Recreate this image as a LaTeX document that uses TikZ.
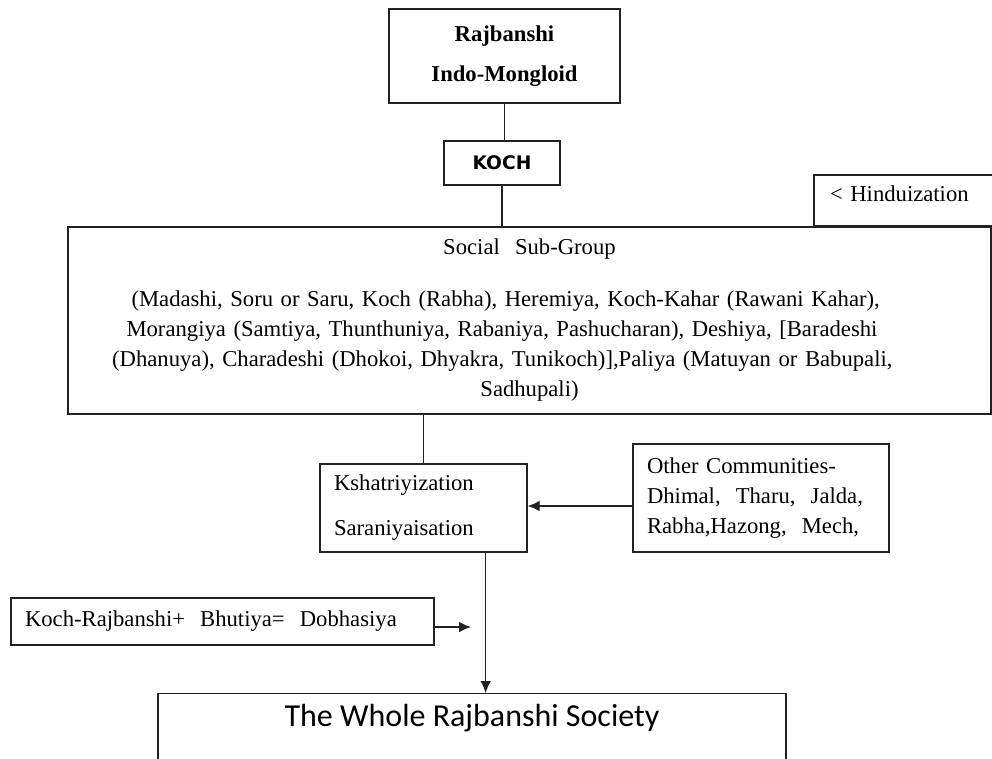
\documentclass[tikz,border=0pt]{standalone}
\usepackage{fontspec}
\setmainfont{Liberation Serif}
\newfontfamily\kochfont{DejaVu Sans}
\newfontfamily\wholefont{Carlito}
\usetikzlibrary{arrows.meta}
\definecolor{my_line}{HTML}{222222}

\begin{document}
\begin{tikzpicture}[
    x=0.75pt, y=-0.75pt,
    box/.style={draw=my_line, line width=1pt, rectangle, inner sep=0pt},
    serif/.style={font=\fontsize{17}{22.5}\selectfont},
    link/.style={draw=my_line, line width=0.9pt},
    flow/.style={draw=my_line, line width=0.9pt, -{Latex[length=9pt, width=8pt]}}
]

%% ---- Rahmen des Bildes ----
\useasboundingbox (0,0) rectangle (992,758);
\clip (0,0) rectangle (992,758);

%% ---- Oben: Rajbanshi / Indo-Mongloid ----
\node[box, minimum width=173.25pt, minimum height=70.5pt, align=center,
      font=\bfseries\fontsize{17}{30}\selectfont]
    (origin) at (504.5,56) {Rajbanshi\\Indo-Mongloid};

%% ---- KOCH ----
\node[box, minimum width=87pt, minimum height=33pt,
      font=\kochfont\bfseries\fontsize{14}{16}\selectfont]
    (koch) at (502,163) {KOCH};

%% ---- Hinduization (rechts, am Rand abgeschnitten) ----
\node[box, serif, minimum width=139.5pt, minimum height=38.25pt,
      text width=115.5pt, inner xsep=12pt, align=left, text depth=10pt]
    (hindu) at (907,200.5) {< Hinduization};

%% ---- Social Sub-Group ----
\node[box, serif, minimum width=692.25pt, minimum height=140.25pt,
      text width=630pt, align=center]
    (social) at (529.5,320.5)
    {Social\ \ Sub-Group\\[16.5pt]
     \makebox[597pt][s]{(Madashi, Soru or Saru, Koch (Rabha), Heremiya, Koch-Kahar (Rawani Kahar),}\\
     \makebox[604.5pt][s]{Morangiya (Samtiya, Thunthuniya, Rabaniya, Pashucharan), Deshiya, [Baradeshi}\\
     \makebox[626pt][s]{(Dhanuya), Charadeshi (Dhokoi, Dhyakra, Tunikoch)],Paliya (Matuyan or Babupali,}\\
     Sadhupali)};

%% ---- Kshatriyization / Saraniyaisation ----
\node[box, font=\fontsize{17}{33.75}\selectfont, minimum width=155.25pt,
      minimum height=66pt, text width=134.25pt, inner xsep=10.5pt, align=left]
    (ksh) at (423.5,508) {Kshatriyization\\Saraniyaisation};

%% ---- Other Communities ----
\node[box, serif, minimum width=192pt, minimum height=81pt,
      text width=171pt, inner xsep=10.5pt, align=left]
    (other) at (761,498)
    {Other Communities-\\Dhimal,\ \ Tharu,\ \ Jalda,\\Rabha,Hazong,\ \ Mech,};

%% ---- Dobhasiya ----
\node[box, serif, minimum width=317.25pt, minimum height=35.25pt,
      text width=296.25pt, inner xsep=10.5pt, align=left]
    (dobh) at (222.5,621.5) {Koch-Rajbanshi+\ \ Bhutiya=\ \ Dobhasiya};
\coordinate (dobhtip) at (471,627);

%% ---- The Whole Rajbanshi Society (unten abgeschnitten) ----
\node[box, anchor=north, minimum width=471pt, inner ysep=8pt, text depth=80pt,
      font=\wholefont\fontsize{24}{28}\selectfont]
    (whole) at (472,693) {The Whole Rajbanshi Society};

%% ---- Verbindungen ----
\draw[link] (origin.south) -- (origin.south |- koch.north);
\draw[link] (koch.south) -- (koch.south |- social.north);
\draw[link] (ksh.north |- social.south) -- (ksh.north);
\draw[flow] ([yshift=1.5pt]ksh.east -| other.west) -- ([yshift=1.5pt]ksh.east);
\draw[flow] ([xshift=-31.5pt]ksh.south east)
    -- ([xshift=-31.5pt]ksh.south east |- whole.north);
\draw[flow] (dobh.east |- dobhtip) -- (dobhtip);

\end{tikzpicture}
\end{document}
